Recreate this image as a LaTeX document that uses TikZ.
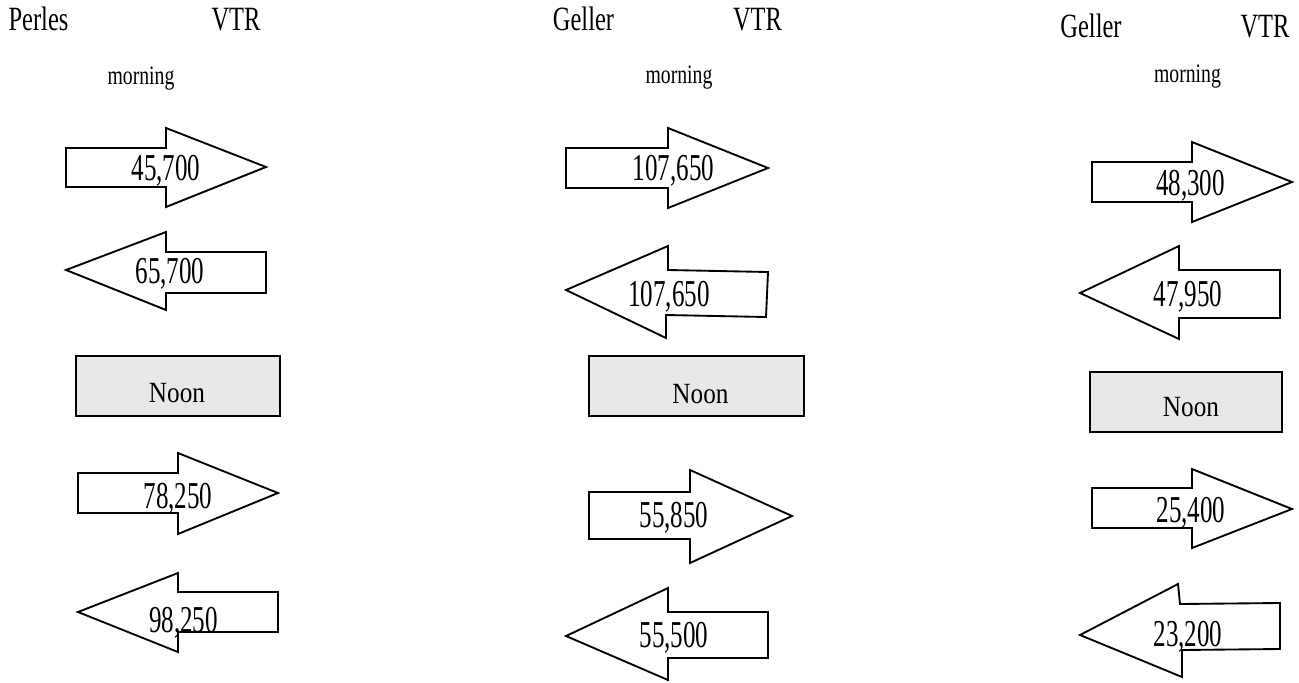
\documentclass[tikz,border=0pt]{standalone}
\usepackage{fontspec}
\setmainfont{Liberation Serif}
\newfontfamily\hdrfont[FakeStretch=0.72]{Liberation Serif}
\newfontfamily\mornfont[FakeStretch=0.74]{Liberation Serif}
\newfontfamily\numfont[FakeStretch=0.66]{Liberation Serif}
\newfontfamily\noonfont[FakeStretch=0.86]{Liberation Serif}
\definecolor{noongray}{HTML}{E8E8E8}
\tikzset{
  hdr/.style={anchor=base, inner sep=0pt, font=\hdrfont\fontsize{25.5}{26}\selectfont},
  morn/.style={anchor=base, inner sep=0pt, font=\mornfont\fontsize{20}{21}\selectfont},
  num/.style={anchor=base, inner sep=0pt, font=\numfont\fontsize{28.5}{29}\selectfont},
  noontxt/.style={anchor=base, inner sep=0pt, font=\noonfont\fontsize{22}{23}\selectfont},
  arrowshape/.style={draw=black, fill=white, line width=1.4pt, line join=miter},
  noonbox/.style={draw=black, fill=noongray, line width=1.4pt}
}
\begin{document}
\begin{tikzpicture}[x=0.75pt, y=-0.75pt]
\useasboundingbox (0,0) rectangle (1299,682);
% ---------- Column 1 ----------
\node[hdr] (p-name) at (38.5,30) {Perles};
\node[hdr] (p-vtr) at (236,30) {VTR};
\node[morn] (p-morn) at (141,84) {morning};
\draw[arrowshape] (66,148) -- (166,148) -- (166,128) -- (266,167) -- (166,207) -- (166,187) -- (66,187) -- cycle;
\node[num] (p-a1) at (166,180) {45,700};
\draw[arrowshape] (66,270) -- (166,232) -- (166,252) -- (266,252) -- (266,293) -- (166,293) -- (166,310) -- cycle;
\node[num] (p-a2) at (170,283) {65,700};
\draw[noonbox] (76,356) rectangle (280,416);
\node[noontxt] (p-noon) at (177,402) {Noon};
\draw[arrowshape] (78,473) -- (178,473) -- (178,453) -- (278,493) -- (178,534) -- (178,513) -- (78,513) -- cycle;
\node[num] (p-a3) at (178,508) {78,250};
\draw[arrowshape] (78,612) -- (178,573) -- (178,592) -- (278,592) -- (278,632) -- (178,632) -- (178,652) -- cycle;
\node[num] (p-a4) at (183.5,632) {98,250};
% ---------- Column 2 ----------
\node[hdr] (g-name) at (583.5,30) {Geller};
\node[hdr] (g-vtr) at (757.5,30) {VTR};
\node[morn] (g-morn) at (679,83) {morning};
\draw[arrowshape] (566,148) -- (668,148) -- (668,128) -- (768,168) -- (668,208) -- (668,188) -- (566,188) -- cycle;
\node[num] (g-a1) at (673.5,180) {107,650};
\draw[arrowshape] (566,290) -- (668,246) -- (668,270) -- (768,272) -- (766,317) -- (666,315) -- (666,338) -- cycle;
\node[num] (g-a2) at (669,306) {107,650};
\draw[noonbox] (589,356) rectangle (804,416);
\node[noontxt] (g-noon) at (700.5,403) {Noon};
\draw[arrowshape] (589,492) -- (690,492) -- (690,470) -- (792,516) -- (690,563) -- (690,539) -- (589,539) -- cycle;
\node[num] (g-a3) at (674,527) {55,850};
\draw[arrowshape] (566,636) -- (668,588) -- (668,612) -- (768,612) -- (768,658) -- (668,658) -- (668,680) -- cycle;
\node[num] (g-a4) at (674,647) {55,500};
% ---------- Column 3 ----------
\node[hdr] (h-name) at (1091,37) {Geller};
\node[hdr] (h-vtr) at (1265,37) {VTR};
\node[morn] (h-morn) at (1187.5,82) {morning};
\draw[arrowshape] (1092,162) -- (1192,162) -- (1192,142) -- (1292,182) -- (1192,222) -- (1192,202) -- (1092,202) -- cycle;
\node[num] (h-a1) at (1190.5,195) {48,300};
\draw[arrowshape] (1080,293) -- (1179,246) -- (1179,270) -- (1280,270) -- (1280,318) -- (1179,318) -- (1179,339) -- cycle;
\node[num] (h-a2) at (1188,306) {47,950};
\draw[noonbox] (1090,372) rectangle (1282,432);
\node[noontxt] (h-noon) at (1191,416) {Noon};
\draw[arrowshape] (1092,488) -- (1192,488) -- (1192,469) -- (1292,509) -- (1192,548) -- (1192,528) -- (1092,528) -- cycle;
\node[num] (h-a3) at (1191,522) {25,400};
\draw[arrowshape] (1080,635) -- (1178,584) -- (1180,604) -- (1280,603) -- (1280,649) -- (1182,650) -- (1182,677) -- cycle;
\node[num] (h-a4) at (1188,646) {23,200};
\end{tikzpicture}
\end{document}
